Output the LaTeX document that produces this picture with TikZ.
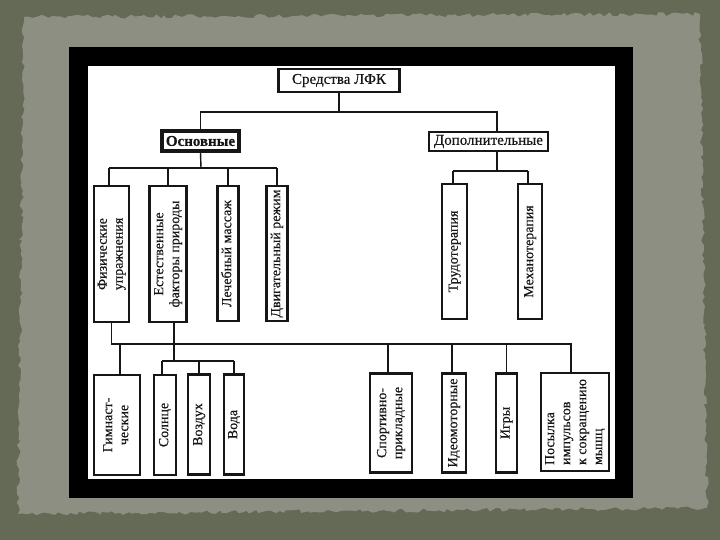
\documentclass[tikz,border=0pt]{standalone}
\usepackage{fontspec}
\setmainfont{Liberation Serif}
\newfontfamily\scanfont{Liberation Serif}[FakeBold=0.4]
\usepackage{graphicx}
\usetikzlibrary{decorations.pathmorphing}
\definecolor{outerbg}{RGB}{100,106,86}
\definecolor{paper}{RGB}{140,143,130}
\definecolor{ink}{RGB}{22,22,22}
\newcommand{\vlab}[1]{\rotatebox{90}{\begin{tabular}{@{}c@{}}#1\end{tabular}}}
\newcommand{\vlabl}[1]{\rotatebox{90}{\begin{tabular}{@{}l@{}}#1\end{tabular}}}
\begin{document}
\begin{tikzpicture}[x=1pt,y=-1pt,
  box/.style={draw=ink, line width=2.8pt, fill=white, inner sep=0pt, text=ink,
    font=\scanfont\fontsize{14}{16}\selectfont},
  hbox/.style={box, font=\scanfont\fontsize{15}{17}\selectfont},
  link/.style={draw=ink, line width=1.4pt},
]
\useasboundingbox (0,0) rectangle (720,540);
\fill[outerbg] (0,0) rectangle (720,540);
\pgfmathsetseed{7}
\fill[paper, decorate, decoration={random steps, segment length=4pt, amplitude=2pt}]
  (24,17) -- (700,14) -- (707,508) -- (18,514) -- cycle;
\fill[black] (69,47.5) rectangle (632.5,498);
\fill[white] (87.7,66) rectangle (614.5,479);

% top level
\node[hbox, minimum width=121pt, minimum height=23pt] (T) at (339,80.5) {Средства ЛФК};
\node[hbox, line width=3.2pt, minimum width=77pt, minimum height=20pt,
  font=\scanfont\fontsize{15}{17}\selectfont\bfseries] (O) at (200.5,141) {Основные};
\node[hbox, minimum width=119pt, minimum height=19pt] (D) at (488.5,141.5) {Дополнительные};

% first row
\node[box, minimum width=35pt, minimum height=136pt] (F1) at (111.5,254) {\vlab{Физические\\упражнения}};
\node[box, minimum width=37pt, minimum height=136pt] (F2) at (168,254) {\vlab{Естественные\\факторы природы}};
\node[box, minimum width=21pt, minimum height=135pt] (F3) at (228,253.5) {\vlab{Лечебный массаж}};
\node[box, minimum width=21pt, minimum height=135pt] (F4) at (277,253.5) {\vlab{Двигательный режим}};
\node[box, minimum width=25pt, minimum height=135pt] (G1) at (454.5,251.5) {\vlab{Трудотерапия}};
\node[box, minimum width=24pt, minimum height=135pt] (G2) at (530,251.5) {\vlab{Механотерапия}};

% bottom row
\node[box, minimum width=46pt, minimum height=100pt] (B1) at (117,425) {\vlab{Гимнаст-\\ческие}};
\node[box, minimum width=22pt, minimum height=100pt] (B2) at (165,425) {\vlab{Солнце}};
\node[box, minimum width=22pt, minimum height=100pt] (B3) at (199,424.5) {\vlab{Воздух}};
\node[box, minimum width=20pt, minimum height=100pt] (B4) at (234,424.5) {\vlab{Вода}};
\node[box, minimum width=42pt, minimum height=99pt] (B5) at (391,423) {\vlab{Спортивно-\\прикладные}};
\node[box, minimum width=24pt, minimum height=99pt] (B6) at (454,423) {\vlab{Идеомоторные}};
\node[box, minimum width=21pt, minimum height=99pt] (B7) at (506.5,423) {\vlab{Игры}};
\node[box, minimum width=68pt, minimum height=98pt] (B8) at (575,422) {\vlabl{Посылка\\импульсов\\к сокращению\\мышц}};

% connectors
\coordinate (jT) at (339,112);
\coordinate (jO) at (201,168);
\coordinate (jD) at (497,171);
\coordinate (bus) at (0,344);
\coordinate (jN) at (174,361);

\draw[link] (T.south) -- (jT);
\draw[link] (O.north) |- (jT) -| ([xshift=8.5pt]D.north);

\draw[link] (O.south) -- (jO);
\draw[link] ([xshift=-2.5pt]F1.north |- jO) -- (F4.north |- jO);
\draw[link] ([xshift=-2.5pt]F1.north) -- ([xshift=-2.5pt]F1.north |- jO);
\draw[link] (F2.north) -- (F2.north |- jO);
\draw[link] (F3.north) -- (F3.north |- jO);
\draw[link] (F4.north) -- (F4.north |- jO);

\draw[link] ([xshift=8.5pt]D.south) -- (jD);
\draw[link] ([xshift=-1.5pt]G1.north |- jD) -- ([xshift=-2pt]G2.north |- jD);
\draw[link] ([xshift=-1.5pt]G1.north) -- ([xshift=-1.5pt]G1.north |- jD);
\draw[link] ([xshift=-2pt]G2.north) -- ([xshift=-2pt]G2.north |- jD);

\draw[link] (F1.south) -- (F1.south |- bus) -- ([xshift=-4pt]B8.north |- bus) -- ([xshift=-4pt]B8.north);
\draw[link] ([xshift=3pt]B1.north |- bus) -- ([xshift=3pt]B1.north);
\draw[link] ([xshift=-3pt]B5.north |- bus) -- ([xshift=-3pt]B5.north);
\draw[link] ([xshift=-2pt]B6.north |- bus) -- ([xshift=-2pt]B6.north);
\draw[link] (B7.north |- bus) -- (B7.north);

\draw[link] ([xshift=6pt]F2.south) -- (jN);
\draw[link] ([xshift=-3pt]B2.north |- jN) -- (B4.north |- jN);
\draw[link] ([xshift=-3pt]B2.north) -- ([xshift=-3pt]B2.north |- jN);
\draw[link] (B3.north) -- (B3.north |- jN);
\draw[link] (B4.north) -- (B4.north |- jN);
\end{tikzpicture}
\end{document}
